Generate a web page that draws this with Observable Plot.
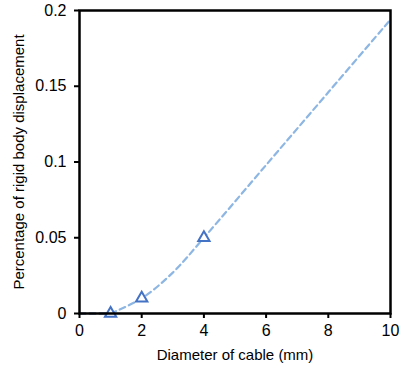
<!DOCTYPE html>
<html>
<head>
<meta charset="utf-8">
<script src="https://cdn.jsdelivr.net/npm/d3@7"></script>
<script src="https://cdn.jsdelivr.net/npm/@observablehq/plot@0.6"></script>
<style>
  html, body { margin: 0; padding: 0; background: #fff; }
  #chart svg { display: block; }
</style>
</head>
<body>
<div id="chart"></div>
<script>
// Measured points (markers)
const diameters = [1, 2, 4];
const displacements = [0, 0.01, 0.05];
// Smooth trend curve
const curveX = [1, 2, 3, 4, 6, 8, 10];
const curveY = [0, 0.01, 0.027, 0.05, 0.098, 0.146, 0.194];
// Dark dashed baseline segment
const baseX = [0, 1];
const baseY = [0, 0];
const xTicks = [0, 2, 4, 6, 8, 10];
const yTicks = [0, 0.05, 0.1, 0.15, 0.2];

const pts = diameters.map((d, i) => ({x: d, y: displacements[i]}));
const curve = curveX.map((d, i) => ({x: d, y: curveY[i]}));
const base = baseX.map((d, i) => ({x: d, y: baseY[i]}));

const font = "Liberation Sans, Arial, sans-serif";

const chart = Plot.plot({
  width: 406,
  height: 369,
  marginLeft: 79,
  marginRight: 16,
  marginTop: 10,
  marginBottom: 56,
  style: {fontFamily: font, fontSize: "16px", color: "#000", background: "#fff"},
  x: {domain: [0, 10]},
  y: {domain: [0, 0.2]},
  marks: [
    Plot.line(curve, {x: "x", y: "y", curve: "catmull-rom", stroke: "#8db6e3", strokeWidth: 2.2, strokeDasharray: "6,4"}),
    Plot.line(base, {x: "x", y: "y", stroke: "#3b64a8", strokeWidth: 2.2, strokeDasharray: "6,4"}),
    Plot.dot(pts, {x: "x", y: "y", symbol: "triangle", r: 4.2, stroke: "#4472c4", strokeWidth: 2, fill: "#fff"}),
    Plot.frame({stroke: "#000", strokeWidth: 2.5}),
    Plot.axisX({ticks: xTicks, tickSize: 5, tickPadding: 6, tickFormat: d => String(d), stroke: "#000", strokeWidth: 2,
      fontSize: 16, fill: "#000", label: null}),
    Plot.axisY({ticks: yTicks, tickSize: 5, tickPadding: 8, tickFormat: d => String(d), stroke: "#000", strokeWidth: 2,
      fontSize: 16, fill: "#000", label: null}),
    Plot.axisX({ticks: [], tickSize: 0, fontSize: 15, fill: "#000", label: "Diameter of cable (mm)", labelAnchor: "center", labelArrow: "none", labelOffset: 46}),
    Plot.axisY({ticks: [], tickSize: 0, fontSize: 15, fill: "#000", label: "Percentage of rigid body displacement", labelAnchor: "center", labelArrow: "none", labelOffset: 66})
  ]
});
document.getElementById("chart").appendChild(chart);
</script>
</body>
</html>
